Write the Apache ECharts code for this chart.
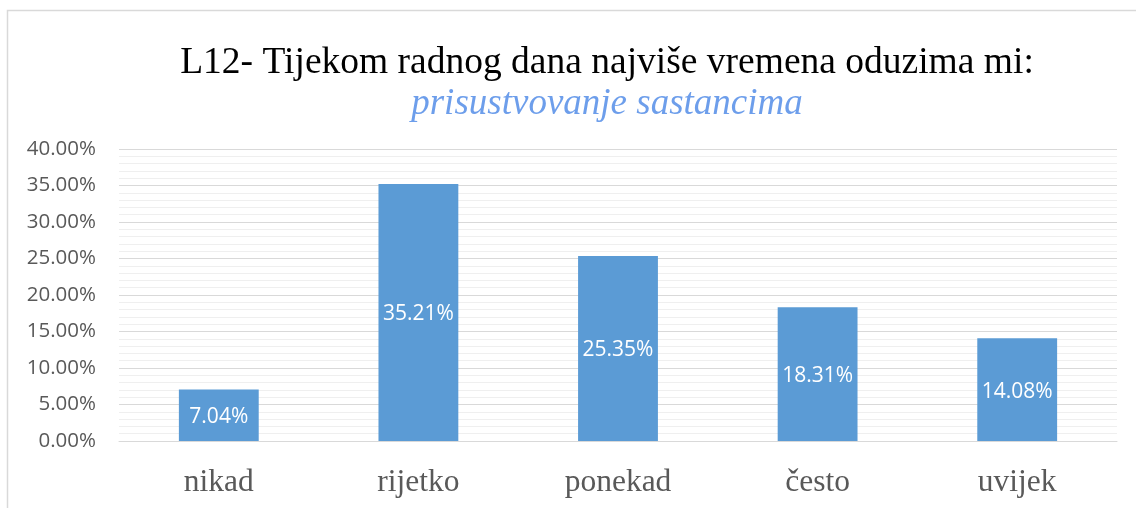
<!DOCTYPE html>
<html>
<head>
<meta charset="utf-8">
<script src="https://cdn.jsdelivr.net/npm/echarts@6/dist/echarts.min.js"></script>
<style>
  html, body { margin: 0; padding: 0; background: #fff; }
  #chart { width: 1136px; height: 508px; }
</style>
</head>
<body>
<div id="chart"></div>
<script>
const categories = ["nikad", "rijetko", "ponekad", "često", "uvijek"];
const shares = [7.04, 35.21, 25.35, 18.31, 14.08];
const titleText = "L12- Tijekom radnog dana najviše vremena oduzima mi:";
const subtitleText = "prisustvovanje sastancima";

const chart = echarts.init(document.getElementById("chart"));

const option = {
    animation: false,
    graphic: [
        {
            type: "rect",
            shape: { x: 7.5, y: 10.5, width: 1200, height: 600 },
            style: { fill: "none", stroke: "#d9d9d9", lineWidth: 1.5 },
            silent: true,
        },
    ],
    title: {
        text: titleText,
        subtext: subtitleText,
        left: 602,
        top: 39,
        textAlign: "center",
        itemGap: 4,
        textStyle: {
            fontFamily: "Liberation Serif",
            fontSize: 37.5,
            fontWeight: "normal",
            color: "#000",
        },
        subtextStyle: {
            fontFamily: "Liberation Serif",
            fontSize: 37,
            fontStyle: "italic",
            color: "#6d9eeb",
        },
    },
    grid: {
        left: 119,
        right: 19,
        top: 149,
        bottom: 67,
    },
    xAxis: {
        type: "category",
        data: categories,
        axisLine: { lineStyle: { color: "#d9d9d9" } },
        axisTick: { show: false },
        axisLabel: {
            margin: 26,
            fontFamily: "Liberation Serif",
            fontSize: 31.5,
            color: "#595959",
        },
    },
    yAxis: {
        type: "value",
        min: 0,
        max: 40,
        interval: 5,
        axisLine: { show: false },
        axisTick: { show: false },
        axisLabel: {
            margin: 23,
            fontFamily: "Open Sans",
            fontSize: 20.5,
            color: "#595959",
            formatter: (v) => v.toFixed(2) + "%",
        },
        splitLine: { lineStyle: { color: "#d9d9d9" } },
        minorTick: { show: false, splitNumber: 5 },
        minorSplitLine: { show: true, lineStyle: { color: "#efefef" } },
    },
    series: [
        {
            type: "bar",
            data: shares,
            barWidth: "40%",
            itemStyle: { color: "#5b9bd5" },
            label: {
                show: true,
                position: "inside",
                offset: [0, 2],
                fontFamily: "Open Sans",
                fontSize: 21,
                color: "#fff",
                formatter: (p) => p.value.toFixed(2) + "%",
            },
        },
    ],
};

chart.setOption(option);
</script>
</body>
</html>
